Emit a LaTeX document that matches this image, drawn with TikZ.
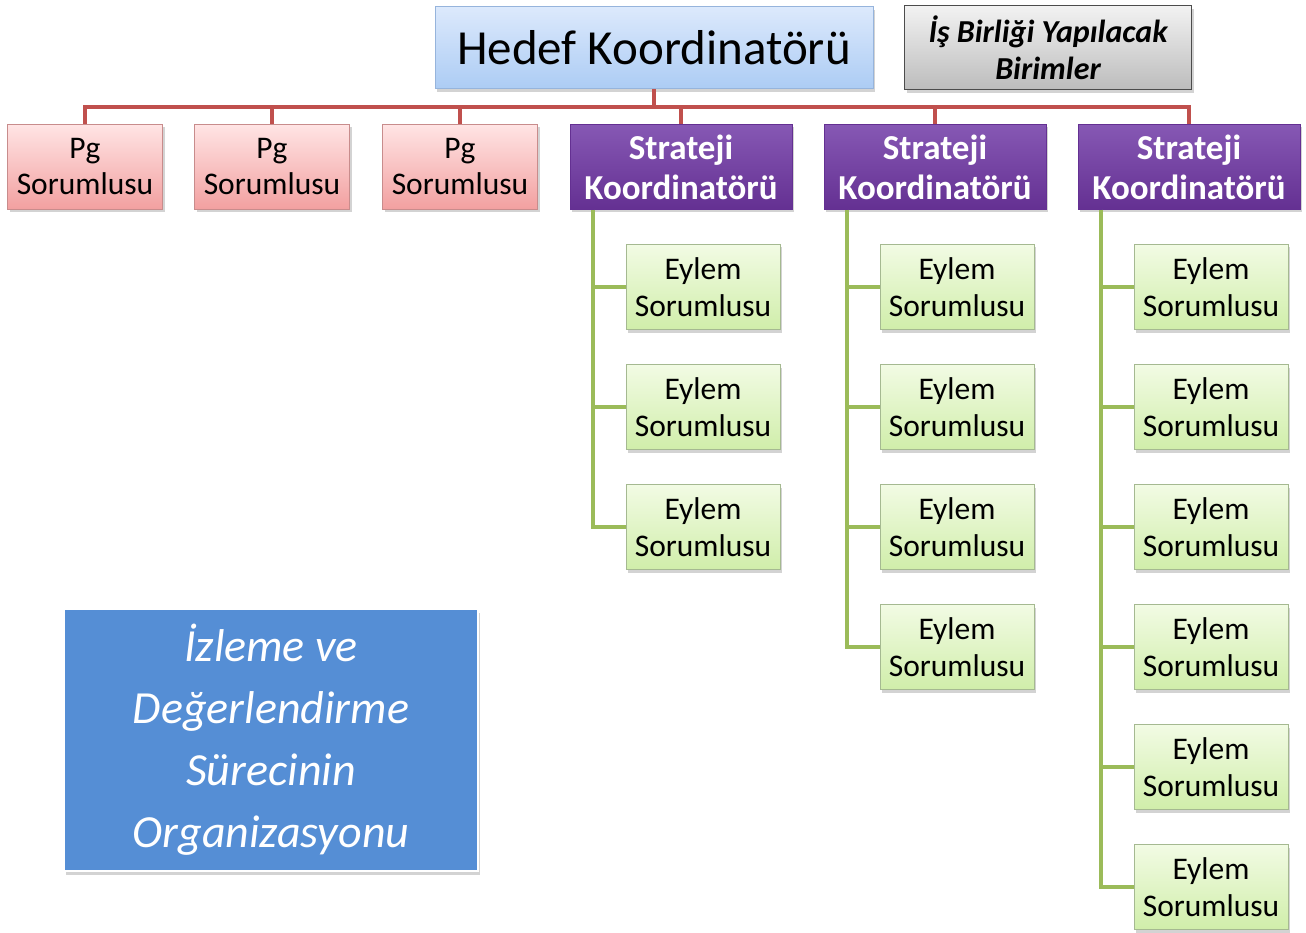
\documentclass[tikz,border=0pt]{standalone}
\usepackage{fontspec}
\setmainfont{Carlito}
\usetikzlibrary{shadows,positioning}

\definecolor{hedeftop}{RGB}{220,233,252}
\definecolor{hedefbot}{RGB}{172,204,244}
\definecolor{hedefline}{RGB}{150,180,220}
\definecolor{pgtop}{RGB}{255,228,228}
\definecolor{pgbot}{RGB}{242,160,160}
\definecolor{pgline}{RGB}{200,140,140}
\definecolor{strtop}{RGB}{134,88,180}
\definecolor{strbot}{RGB}{100,48,146}
\definecolor{eytop}{RGB}{242,251,228}
\definecolor{eybot}{RGB}{208,238,170}
\definecolor{eyline}{RGB}{165,185,145}
\definecolor{grtop}{RGB}{242,242,242}
\definecolor{grbot}{RGB}{188,188,188}
\definecolor{redbus}{RGB}{192,80,77}
\definecolor{greenbus}{RGB}{155,187,89}
\definecolor{blueorg}{RGB}{85,142,213}

\begin{document}
\begin{tikzpicture}[x=1pt,y=-1pt,
    box/.style={draw,line width=1pt,align=center,inner sep=2pt,
      drop shadow={shadow xshift=2pt,shadow yshift=-3pt,opacity=.35}},
    hedefbox/.style={box,minimum width=438pt,minimum height=82pt,draw=hedefline,
      top color=hedeftop,bottom color=hedefbot,font=\fontsize{49}{56}\selectfont},
    ortakbox/.style={box,minimum width=287pt,minimum height=84pt,draw=black!70,
      top color=grtop,bottom color=grbot,font=\fontsize{32}{37}\selectfont\bfseries\itshape},
    pgbox/.style={box,minimum width=155pt,minimum height=85pt,draw=pgline,
      top color=pgtop,bottom color=pgbot,font=\fontsize{31.5}{36}\selectfont},
    strbox/.style={box,minimum width=222pt,minimum height=85pt,draw=strbot,text=white,
      top color=strtop,bottom color=strbot,font=\fontsize{35}{40}\selectfont\bfseries},
    eylembox/.style={box,minimum width=154pt,minimum height=85pt,draw=eyline,
      top color=eytop,bottom color=eybot,font=\fontsize{31.5}{37}\selectfont},
    redline/.style={draw=redbus,line width=4pt},
    greenline/.style={draw=greenbus,line width=4pt}]
  \useasboundingbox (0,0) rectangle (1306,933);

  % ust kisim
  \node[hedefbox] (hedef) at (654,48) {Hedef Koordinatörü};
  \node[ortakbox] (ortak) at (1048,48) {İş Birliği Yapılacak\\Birimler};

  % pg sorumlulari ve strateji koordinatorleri
  \foreach \i/\x in {1/85,2/272,3/460}
    \node[pgbox] (pg\i) at (\x,167) {Pg\\Sorumlusu};
  \foreach \i/\x in {1/681,2/935,3/1189}
    \node[strbox] (str\i) at (\x,167) {Strateji\\Koordinatörü};

  \foreach \n in {pg1,pg2,pg3,str1,str2,str3}
    \draw[redline] (hedef.south) -- ++(0,18) -| (\n.north);

  % eylem sorumlulari
  \foreach \c/\x/\m in {1/703/3,2/957/4,3/1211/6}{
    \foreach \k in {1,...,\m}{
      \node[eylembox] (e\c-\k) at (\x,{167+120*\k}) {Eylem\\Sorumlusu};
      \draw[greenline] ([xshift=23pt]str\c.south west) |- (e\c-\k.west);
    }
  }

  % baslik kutusu
  \node[draw=white,line width=2pt,fill=blueorg,minimum width=414pt,minimum height=262pt,
    align=center,text=white,font=\fontsize{46}{62}\selectfont\itshape,
    drop shadow={shadow xshift=2pt,shadow yshift=-4pt,opacity=.35}] (baslik) at (271,740)
    {İzleme ve\\Değerlendirme\\Sürecinin\\Organizasyonu};
\end{tikzpicture}
\end{document}
